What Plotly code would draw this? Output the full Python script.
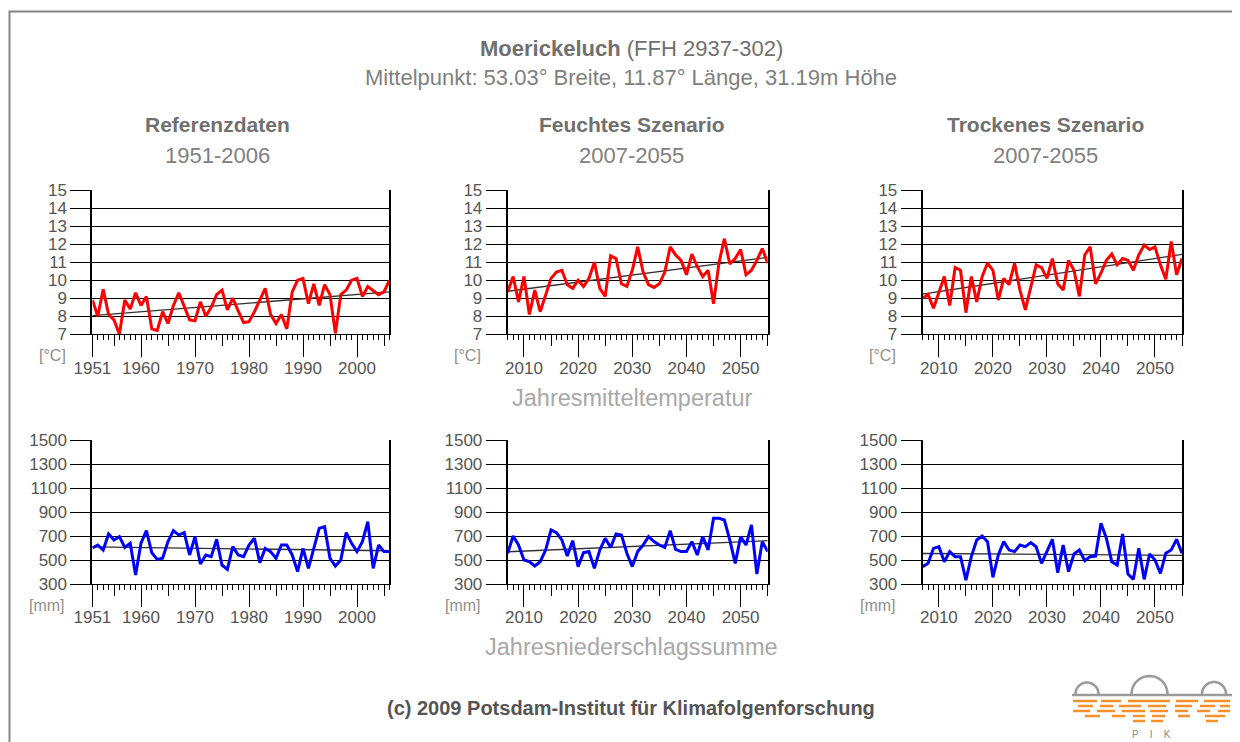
import numpy as np
import plotly.graph_objects as go

W, H = 1240, 742
OFF = 8  # page body margin in the browser

# ---------------- data ----------------
years_ref = list(range(1951, 2007))
years_scen = list(range(2007, 2056))

temp_ref = [8.9, 8.0, 9.5, 8.1, 7.8, 7.0, 8.9, 8.4, 9.3, 8.6,
            9.1, 7.3, 7.2, 8.25, 7.6, 8.6, 9.3, 8.5, 7.8, 7.75,
            8.8, 8.0, 8.5, 9.2, 9.45, 8.35, 9.0, 8.3, 7.65, 7.7,
            8.25, 8.9, 9.55, 8.1, 7.6, 8.1, 7.3, 9.35, 10.0, 10.1,
            8.7, 9.8, 8.6, 9.75, 9.2, 7.05, 9.2, 9.45, 10.0, 10.1,
            9.1, 9.65, 9.45, 9.2, 9.35, 10.0]
temp_wet = [9.35, 10.2, 8.8, 10.2, 8.1, 9.45, 8.25, 9.2, 10.1, 10.45,
            10.55, 9.75, 9.55, 10.0, 9.65, 10.1, 11.0, 9.55, 9.1, 11.35,
            11.2, 9.8, 9.65, 10.55, 11.85, 10.45, 9.75, 9.6, 9.8, 10.45,
            11.85, 11.4, 11.1, 10.3, 11.45, 10.75, 10.2, 10.55, 8.7, 10.95,
            12.3, 10.9, 11.2, 11.7, 10.3, 10.55, 11.1, 11.75, 10.95]
temp_dry = [9.0, 9.2, 8.45, 9.35, 10.2, 8.6, 10.7, 10.55, 8.2, 10.2,
            8.8, 10.2, 10.95, 10.55, 8.9, 10.1, 9.75, 10.95, 9.45, 8.35,
            9.65, 10.85, 10.7, 10.1, 11.2, 9.8, 9.45, 11.1, 10.55, 9.1,
            11.4, 11.85, 9.8, 10.4, 11.1, 11.45, 10.85, 11.2, 11.1, 10.55,
            11.4, 11.95, 11.7, 11.85, 10.85, 10.05, 12.15, 10.3, 11.2]
prec_ref = [600, 625, 583, 717, 667, 695, 605, 640, 375, 640,
            745, 560, 505, 515, 653, 745, 708, 728, 542, 695,
            467, 542, 528, 672, 458, 422, 611, 542, 528, 625,
            681, 478, 597, 570, 514, 625, 625, 542, 403, 597,
            430, 597, 764, 778, 514, 450, 500, 728, 639, 570,
            653, 820, 430, 625, 570, 570]
prec_wet = [556, 700, 625, 500, 486, 450, 486, 583, 750, 728,
            667, 533, 661, 445, 561, 570, 430, 583, 681, 605,
            717, 708, 556, 445, 570, 625, 695, 653, 625, 605,
            745, 589, 570, 570, 653, 542, 695, 583, 847, 847,
            833, 667, 472, 695, 625, 792, 383, 653, 570]
prec_dry = [445, 472, 597, 611, 486, 570, 528, 528, 333, 528,
            667, 700, 653, 356, 542, 653, 583, 570, 625, 611,
            645, 611, 472, 578, 672, 394, 625, 403, 550, 583,
            494, 528, 533, 806, 681, 486, 458, 717, 383, 339,
            597, 339, 550, 500, 389, 556, 583, 672, 556]

panel_titles = ["Referenzdaten", "Feuchtes Szenario", "Trockenes Szenario"]
panel_periods = ["1951-2006", "2007-2055", "2007-2055"]
temp_ticks = list(range(7, 16))
prec_ticks = list(range(300, 1501, 200))
ref_year_ticks = [1951, 1960, 1970, 1980, 1990, 2000]
ref_half_ticks = [1955, 1965, 1975, 1985, 1995, 2005]
scen_year_ticks = [2010, 2020, 2030, 2040, 2050]
scen_half_ticks = [2015, 2025, 2035, 2045, 2055]

# ---------------- helpers ----------------
def px(x):
    return (x - OFF) / W

def py(y):
    return 1 - (y - OFF) / H

FONT = "Liberation Sans, Arial, sans-serif"
TICKC = "#555555"

xdom_px = [(92.4, 389.4), (507.7, 767.7), (922.7, 1182.0)]
ydom_px = [(190.0, 334.3), (440.0, 584.0)]

panels = [
    (years_ref, temp_ref, "red", 0, 0),
    (years_scen, temp_wet, "red", 0, 1),
    (years_scen, temp_dry, "red", 0, 2),
    (years_ref, prec_ref, "blue", 1, 0),
    (years_scen, prec_wet, "blue", 1, 1),
    (years_scen, prec_dry, "blue", 1, 2),
]

fig = go.Figure()
layout = dict(
    width=W, height=H,
    margin=dict(l=0, r=0, t=0, b=0, pad=0, autoexpand=False),
    paper_bgcolor="white", plot_bgcolor="white",
    showlegend=False,
    font=dict(family=FONT, color=TICKC),
)

for i, (xs, ys, col, row, colidx) in enumerate(panels):
    n = i + 1
    xa = "x" if n == 1 else f"x{n}"
    ya = "y" if n == 1 else f"y{n}"
    # trend line from least squares fit of the data
    coef = np.polyfit(xs, ys, 1)
    trend = np.polyval(coef, [xs[0], xs[-1]])
    fig.add_trace(go.Scatter(x=[xs[0], xs[-1]], y=list(trend), mode="lines",
                             line=dict(color="#303030", width=1.3),
                             xaxis=xa, yaxis=ya, hoverinfo="skip"))
    fig.add_trace(go.Scatter(x=xs, y=ys, mode="lines",
                             line=dict(color=col, width=3),
                             xaxis=xa, yaxis=ya))
    is_ref = colidx == 0
    major = ref_year_ticks if is_ref else scen_year_ticks
    half = ref_half_ticks if is_ref else scen_half_ticks
    xr = [xs[0], xs[-1]]
    x0, x1 = xdom_px[colidx]
    y0, y1 = ydom_px[row]
    layout[f"xaxis{n}"] = dict(
        domain=[px(x0), px(x1)], anchor=ya, range=xr,
        tickmode="array", tickvals=major, ticktext=[str(v) for v in major],
        ticks="outside", ticklen=22, tickcolor="black", tickwidth=1,
        ticklabelstandoff=-4,
        minor=dict(tickmode="linear", tick0=xs[0], dtick=1, ticks="outside",
                   ticklen=5, tickcolor="black", tickwidth=1, showgrid=False),
        showgrid=False, zeroline=False,
        showline=True, linecolor="black", linewidth=1,
        tickfont=dict(size=17, color=TICKC, family=FONT),
    )
    # overlay axis for 5-year ticks
    m = n + 6
    layout[f"xaxis{m}"] = dict(
        overlaying=xa, anchor=ya, side="bottom", range=xr,
        tickmode="array", tickvals=half, ticks="outside", ticklen=11,
        tickcolor="black", tickwidth=1, showticklabels=False,
        showgrid=False, zeroline=False, showline=False,
    )
    fig.add_trace(go.Scatter(x=[None], y=[None], mode="lines",
                             xaxis=f"x{m}", yaxis=ya, hoverinfo="skip"))
    yt = temp_ticks if row == 0 else prec_ticks
    layout[f"yaxis{n}"] = dict(
        domain=[py(y1), py(y0)], anchor=xa, range=[yt[0], yt[-1]],
        tickmode="array", tickvals=yt,
        ticks="outside", ticklen=20, tickcolor="black", tickwidth=1,
        showgrid=True, gridcolor="black", gridwidth=1,
        zeroline=False, showline=True, mirror=True,
        linecolor="black", linewidth=2,
        tickfont=dict(size=17, color=TICKC, family=FONT),
    )

fig.update_layout(**layout)

# ---------------- texts ----------------
ann = []
def text(x, y, s, size, color, xanchor="center"):
    ann.append(dict(x=px(x), y=py(y), xref="paper", yref="paper", text=s,
                    showarrow=False, xanchor=xanchor, yanchor="middle",
                    font=dict(size=size, color=color, family=FONT)))

text(631, 48, "<b>Moerickeluch</b> (FFH 2937-302)", 22, "#707070")
text(631, 78, "Mittelpunkt: 53.03° Breite, 11.87° Länge, 31.19m Höhe", 22, "#808080")
title_x = [217, 632, 1045]
for cx, t, p in zip(title_x, panel_titles, panel_periods):
    text(cx, 124, f"<b>{t}</b>", 21, "#707070")
    text(cx, 155, p, 22, "#808080")
for colidx, (x0, x1) in enumerate(xdom_px):
    text(x0 - 40, 356, "[°C]", 16, "#909090")
    text(x0 - 45, 605, "[mm]", 16, "#909090")
text(632, 398, "Jahresmitteltemperatur", 23.5, "#a8a8a8")
text(632, 647, "Jahresniederschlagssumme", 23.5, "#a8a8a8")
text(631, 708, "<b>(c) 2009 Potsdam-Institut für Klimafolgenforschung</b>", 20, "#555555")
text(1151, 734, "P&nbsp;&nbsp;&nbsp;&nbsp;I&nbsp;&nbsp;&nbsp;&nbsp;K", 10, "#888888")

# ---------------- frame & logo ----------------
shapes = []
shapes.append(dict(type="rect", xref="paper", yref="paper",
                   x0=px(9.5), x1=px(1270), y0=py(800), y1=py(11.5),
                   line=dict(color="#858585", width=2), layer="above"))

def arc_path(cx, cy, r):
    th = np.linspace(np.pi, 0, 25)
    pts = [(px(cx + r * np.cos(t)), py(cy - r * np.sin(t))) for t in th]
    return "M " + " L ".join(f"{a:.5f},{b:.5f}" for a, b in pts)

for cx, r in [(1087, 11.5), (1149.5, 18), (1214, 12)]:
    shapes.append(dict(type="path", xref="paper", yref="paper",
                       path=arc_path(cx, 694, r),
                       line=dict(color="#9a9a9a", width=2.5)))
shapes.append(dict(type="line", xref="paper", yref="paper",
                   x0=px(1072), x1=px(1232), y0=py(695), y1=py(695),
                   line=dict(color="#9a9a9a", width=2.5)))
ORANGE = "#f7902a"
stripes = [
    (701, [(1073, 1097), (1101, 1121), (1128, 1170), (1176, 1198), (1204, 1230)]),
    (706, [(1078, 1093), (1100, 1113), (1119, 1141), (1148, 1166), (1175, 1192), (1200, 1215), (1220, 1230)]),
    (711, [(1073, 1090), (1097, 1115), (1122, 1145), (1150, 1168), (1175, 1188), (1197, 1210), (1218, 1230)]),
    (716, [(1085, 1100), (1112, 1125), (1133, 1145), (1152, 1165), (1178, 1190), (1205, 1225)]),
    (721, [(1133, 1145), (1151, 1163), (1206, 1218)]),
]
for yy, segs in stripes:
    for a, b in segs:
        shapes.append(dict(type="line", xref="paper", yref="paper",
                           x0=px(a), x1=px(b), y0=py(yy), y1=py(yy),
                           line=dict(color=ORANGE, width=2.5)))

fig.update_layout(annotations=ann, shapes=shapes)
fig.write_html("out.html")
